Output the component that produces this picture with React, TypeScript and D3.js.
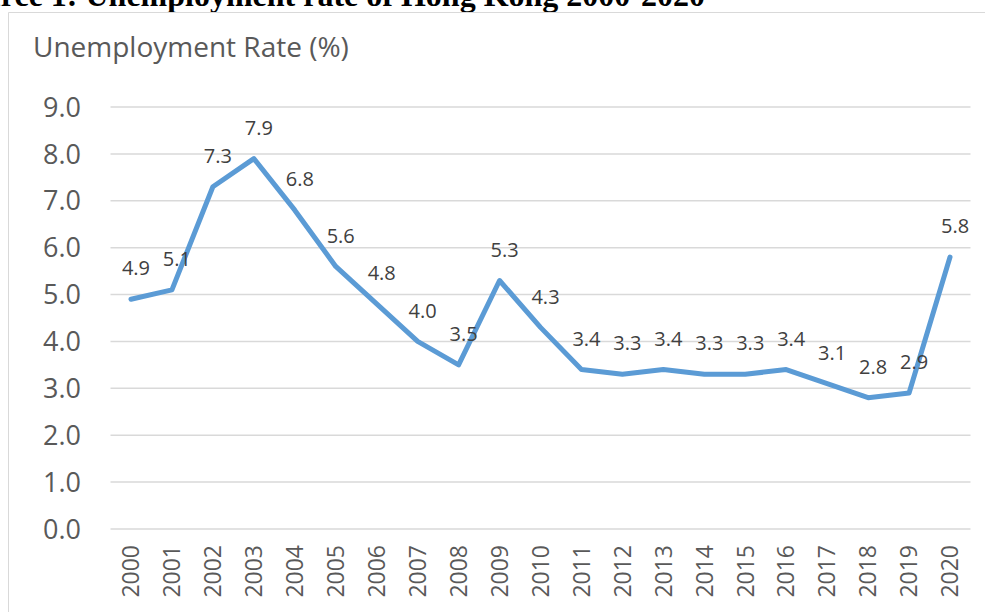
import * as d3 from "d3";

const years = [
  "2000", "2001", "2002", "2003", "2004", "2005", "2006", "2007", "2008", "2009", "2010",
  "2011", "2012", "2013", "2014", "2015", "2016", "2017", "2018", "2019", "2020",
];
const rates = [4.9, 5.1, 7.3, 7.9, 6.8, 5.6, 4.8, 4.0, 3.5, 5.3, 4.3, 3.4, 3.3, 3.4, 3.3, 3.3, 3.4, 3.1, 2.8, 2.9, 5.8];
const yTicks = [0, 1, 2, 3, 4, 5, 6, 7, 8, 9];
const pageTitle = "Source 1: Unemployment rate of Hong Kong 2000-2020";
const axisTitle = "Unemployment Rate (%)";

const W = 985;
const H = 612;
const FONT = "'Open Sans', 'Noto Sans', sans-serif";
const GRAY = "#595959";

export default function App() {
  const x = d3.scaleBand().domain(years).range([110.5, 970.5]);
  const y = d3.scaleLinear().domain([0, 9]).range([529, 107]);
  const cx = (d: string) => (x(d) ?? 0) + x.bandwidth() / 2;

  const line = d3
    .line<number>()
    .x((_, i) => cx(years[i]))
    .y((d) => y(d));

  return (
    <svg
      width={W}
      height={H}
      style={{ position: "absolute", left: 0, top: 0, background: "#fff" }}
    >
      {/* page heading, cut off by the top of the frame */}
      <text
        x={705}
        y={6}
        textAnchor="end"
        fontFamily="'Liberation Serif', serif"
        fontWeight="bold"
        fontSize={32}
        fill="#000"
      >
        {pageTitle}
      </text>
      <path d="M8.5,612 V12.5 H985" fill="none" stroke="#d9d9d9" strokeWidth={1} />

      <text x={33} y={57} fontFamily={FONT} fontSize={28} fill={GRAY}>
        {axisTitle}
      </text>

      {yTicks.map((t) => (
        <g key={t}>
          <line x1={110.5} x2={970.5} y1={y(t)} y2={y(t)} stroke="#d9d9d9" strokeWidth={1.5} />
          <text
            x={81}
            y={y(t)}
            dy="0.36em"
            textAnchor="end"
            fontFamily={FONT}
            fontSize={27}
            fill={GRAY}
          >
            {t.toFixed(1)}
          </text>
        </g>
      ))}

      {years.map((yr) => (
        <text
          key={yr}
          transform={`translate(${cx(yr)},545) rotate(-90)`}
          textAnchor="end"
          dy="0.36em"
          fontFamily={FONT}
          fontSize={23}
          fill={GRAY}
        >
          {yr}
        </text>
      ))}

      <path
        d={line(rates) ?? ""}
        fill="none"
        stroke="#5b9bd5"
        strokeWidth={5}
        strokeLinejoin="round"
        strokeLinecap="round"
      />

      {rates.map((v, i) => (
        <text
          key={years[i]}
          x={cx(years[i]) + 5}
          y={y(v) - 31}
          dy="0.36em"
          textAnchor="middle"
          fontFamily={FONT}
          fontSize={20}
          fill="#404040"
        >
          {v.toFixed(1)}
        </text>
      ))}
    </svg>
  );
}
